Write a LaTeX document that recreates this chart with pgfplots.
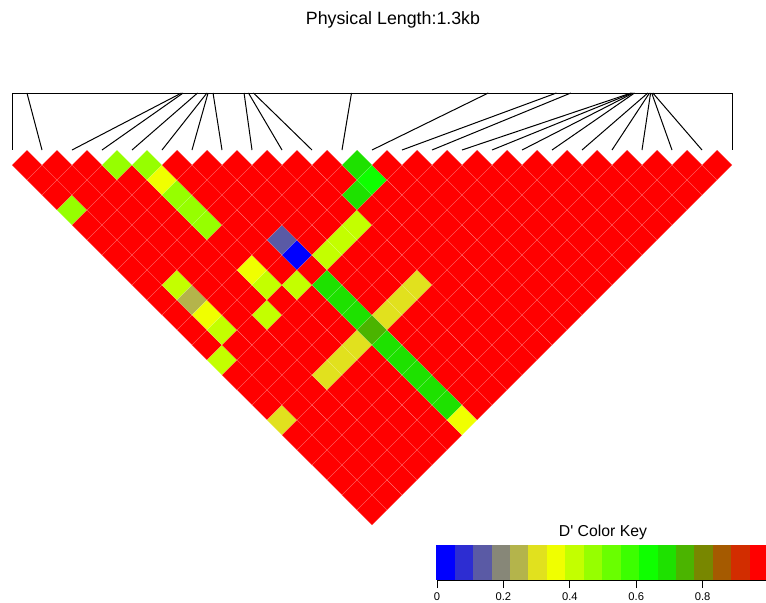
\documentclass[border=0pt]{standalone}
\usepackage{fontspec}
\setmainfont{Liberation Sans}
\usepackage{pgfplots}
\usepackage{pgfplotstable}
\pgfplotsset{compat=1.18}

% 18-step colour key for D' (colour k covers D' in [k/18,(k+1)/18))
\pgfplotsset{
  colormap={LDkey}{rgb255=(0,0,255) rgb255=(45,45,210) rgb255=(90,90,165)
    rgb255=(135,135,120) rgb255=(180,180,75) rgb255=(225,225,30)
    rgb255=(240,255,0) rgb255=(195,255,0) rgb255=(150,255,0)
    rgb255=(105,255,0) rgb255=(60,255,0) rgb255=(15,255,0)
    rgb255=(30,225,0) rgb255=(75,180,0) rgb255=(120,135,0)
    rgb255=(165,90,0) rgb255=(210,45,0) rgb255=(255,0,0)},
}

% pairwise D' between SNP i (row) and SNP j (column dj)
\pgfplotstableread{
i  d2  d3  d4  d5  d6  d7  d8  d9  d10 d11 d12 d13 d14 d15 d16 d17 d18 d19 d20 d21 d22 d23 d24 d25
1  1   1   1   0.47 1  1   1   1   1   1   1   1   1   0.42 1  1   1   0.31 1  1   1   1   1   1
2  nan 1   1   1   1   1   1   1   1   0.42 0.25 0.36 0.42 1 1  1   1   1   1   1   1   1   1   1
3  nan nan 1   1   1   1   1   1   1   1   1   1   1   1   1   1   1   1   1   1   1   1   1   1
4  nan nan nan 0.47 1  1   1   1   1   1   1   1   1   0.42 1  1   1   0.31 1  1   1   1   1   1
5  nan nan nan nan 0.47 0.36 0.47 0.47 0.47 1 1 0.36 0.42 1 1   1   1   0.31 1  1   1   1   1   1
6  nan nan nan nan nan 1   1   1   1   1   1   1   1   0.42 1   1   1   0.31 1  1   1   1   1   1
7  nan nan nan nan nan nan 1   1   1   1   1   0.14 0.03 1 0.69 0.69 0.69 0.75 0.69 0.69 0.69 0.69 0.69 0.36
8  nan nan nan nan nan nan nan 1   1   1   1   1   1   0.42 1   1   1   0.31 1  1   1   1   1   1
9  nan nan nan nan nan nan nan nan 1   1   1   1   1   0.42 1   1   1   0.31 1  1   1   1   1   1
10 nan nan nan nan nan nan nan nan nan 1   1   1   1   0.42 1   1   1   0.31 1  1   1   1   1   1
11 nan nan nan nan nan nan nan nan nan nan 1   1   0.69 1  1   1   1   1   1   1   1   1   1   1
12 nan nan nan nan nan nan nan nan nan nan nan 0.69 0.64 1 1   1   1   1   1   1   1   1   1   1
13 nan nan nan nan nan nan nan nan nan nan nan nan 1   1   1   1   1   1   1   1   1   1   1   1
14 nan nan nan nan nan nan nan nan nan nan nan nan nan 1   1   1   1   1   1   1   1   1   1   1
15 nan nan nan nan nan nan nan nan nan nan nan nan nan nan 1   1   1   1   1   1   1   1   1   1
16 nan nan nan nan nan nan nan nan nan nan nan nan nan nan nan 1   1   1   1   1   1   1   1   1
17 nan nan nan nan nan nan nan nan nan nan nan nan nan nan nan nan 1   1   1   1   1   1   1   1
18 nan nan nan nan nan nan nan nan nan nan nan nan nan nan nan nan nan 1   1   1   1   1   1   1
19 nan nan nan nan nan nan nan nan nan nan nan nan nan nan nan nan nan nan 1   1   1   1   1   1
20 nan nan nan nan nan nan nan nan nan nan nan nan nan nan nan nan nan nan nan 1   1   1   1   1
21 nan nan nan nan nan nan nan nan nan nan nan nan nan nan nan nan nan nan nan nan 1   1   1   1
22 nan nan nan nan nan nan nan nan nan nan nan nan nan nan nan nan nan nan nan nan nan 1   1   1
23 nan nan nan nan nan nan nan nan nan nan nan nan nan nan nan nan nan nan nan nan nan nan 1   1
24 nan nan nan nan nan nan nan nan nan nan nan nan nan nan nan nan nan nan nan nan nan nan nan 1
}\LDtab

% physical position of each SNP (bp from the first one)
\pgfplotstableread{
snp pos
1  0
2  27
3  306
4  309
5  335
6  352
7  354
8  363
9  419
10 427
11 436
12 613
13 860
14 983
15 1009
16 1118
17 1120
18 1122
19 1124
20 1148
21 1151
22 1153
23 1155
24 1157
25 1300
}\maptab

\begin{document}
\begin{tikzpicture}
\begin{axis}[
  at={(0,0)}, anchor=south west,
  scale only axis, width=766bp, height=603bp,
  xmin=0.6, xmax=26.13333, ymin=-5, ymax=15.1, y dir=reverse,
  hide axis, clip=false,
  colormap name=LDkey, point meta min=0, point meta max=17,
]
% LD cells: pair (i,j) sits at ((i+j)/2, (j-i)/2)
\pgfplotsinvokeforeach{2,...,25}{
  \addplot[scatter, only marks, mark=square*, mark size=10.6066bp,
    mark options={rotate=45, line width=0.4bp, draw opacity=0.16},
    scatter/use mapped color={draw=white, fill=mapped color},
    point meta={min(17,floor(18*\thisrow{d#1}))},
    restrict y to domain=0.25:20]
    table[x expr=(\thisrow{i}+#1)/2, y expr=(#1-\thisrow{i})/2] {\LDtab};
}
% genetic map: top bar and a segment from each physical position to its SNP
\addplot[black, line width=1bp] coordinates {(1,-1.9) (25,-1.9)};
\addplot[black, line width=1bp,
  quiver={u=\thisrow{snp}-1-24*\thisrow{pos}/1300, v=1.9}]
  table[x expr=1+24*\thisrow{pos}/1300, y expr=-1.9] {\maptab};
\node[anchor=base, inner sep=0pt, font=\fontsize{17.8bp}{20bp}\selectfont]
  at (axis cs:13.7,-4.1667) {Physical Length:1.3kb};
\end{axis}

% colour key
\begin{axis}[
  at={(437bp,23bp)}, anchor=south west,
  scale only axis, width=332bp, height=34bp,
  xmin=0, xmax=1, ymin=0, ymax=1,
  ytick=\empty, xtick={0,0.2,0.4,0.6,0.8},
  xtick pos=bottom, tick align=outside, major tick length=8bp,
  axis line style={line width=1bp},
  every tick/.style={black, line width=1bp},
  axis on top, clip=false,
  colormap name=LDkey, point meta min=0, point meta max=17,
  every axis title shift=0pt,
  title={D\textquotesingle{} Color Key},
  title style={font=\fontsize{15.8bp}{18bp}\selectfont, anchor=base,
    at={(0.5,1)}, yshift=9.5bp, inner sep=0pt},
  ticklabel style={font=\fontsize{11.2bp}{13bp}\selectfont},
  xticklabel style={yshift=-1bp},
  /pgf/number format/assume math mode=true,
]
\addplot[scatter, only marks, mark=square*, mark size=17bp,
  mark options={xscale=0.56, line width=0pt},
  scatter/use mapped color={draw=mapped color, fill=mapped color},
  point meta=explicit] coordinates {
  (0.02778,0.5) [0] (0.08333,0.5) [1] (0.13889,0.5) [2] (0.19444,0.5) [3]
  (0.25000,0.5) [4] (0.30556,0.5) [5] (0.36111,0.5) [6] (0.41667,0.5) [7]
  (0.47222,0.5) [8] (0.52778,0.5) [9] (0.58333,0.5) [10] (0.63889,0.5) [11]
  (0.69444,0.5) [12] (0.75000,0.5) [13] (0.80556,0.5) [14] (0.86111,0.5) [15]
  (0.91667,0.5) [16] (0.97222,0.5) [17]
};
\end{axis}
\pgfresetboundingbox
\useasboundingbox (0,0) rectangle (766bp,603bp);
\end{tikzpicture}
\end{document}
